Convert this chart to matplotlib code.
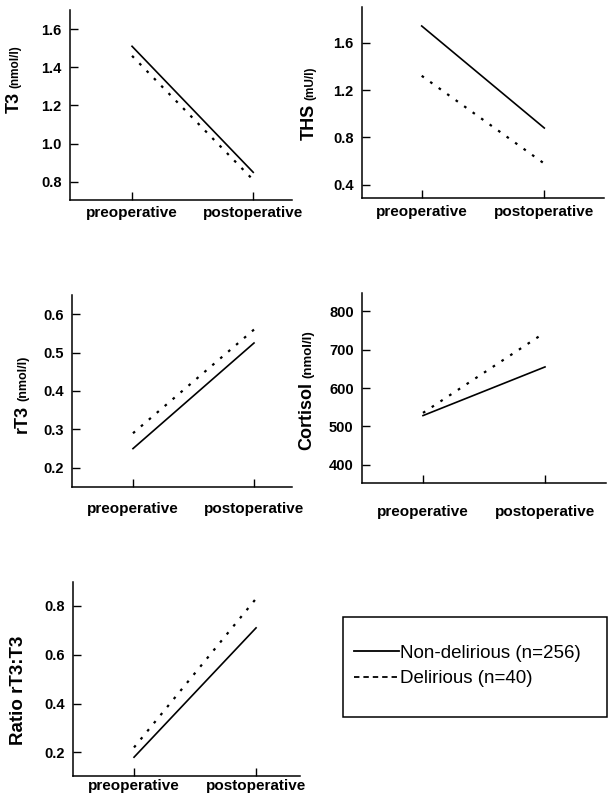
import matplotlib.pyplot as plt
from matplotlib.lines import Line2D
from matplotlib.patches import Rectangle
from matplotlib.ticker import FormatStrFormatter

plt.rcParams['font.family'] = ['Liberation Sans', 'DejaVu Sans']

# data
conditions = ['preoperative', 'postoperative']
series_names = ['Non-delirious (n=256)', 'Delirious (n=40)']

t3_non = [1.51, 0.85]
t3_del = [1.46, 0.81]
t3_ticks = [0.8, 1.0, 1.2, 1.4, 1.6]

ths_non = [1.74, 0.88]
ths_del = [1.32, 0.58]
ths_ticks = [0.4, 0.8, 1.2, 1.6]

rt3_non = [0.25, 0.525]
rt3_del = [0.29, 0.56]
rt3_ticks = [0.2, 0.3, 0.4, 0.5, 0.6]

cort_non = [528, 655]
cort_del = [535, 745]
cort_ticks = [400, 500, 600, 700, 800]

ratio_non = [0.18, 0.71]
ratio_del = [0.22, 0.83]
ratio_ticks = [0.2, 0.4, 0.6, 0.8]

W, H = 609, 800
fig = plt.figure(figsize=(6.09, 8.0), dpi=100)
DOTTED = (0, (1.2, 3.5))


def panel(box, xlim, ylim, ticks, fmt, non, dl, label, unit, lab_xy, lab_size, unit_size, xpad):
    left, right, top, bottom = box
    ax = fig.add_axes([left / W, 1 - bottom / H, (right - left) / W, (bottom - top) / H])
    ax.plot(range(len(conditions)), non, color='black', lw=1.2)
    ax.plot(range(len(conditions)), dl, color='black', lw=1.6, linestyle=DOTTED)
    ax.set_xlim(xlim)
    ax.set_ylim(ylim)
    ax.set_xticks(range(len(conditions)))
    ax.set_xticklabels(conditions, fontsize=11, fontweight='bold')
    ax.set_yticks(ticks)
    ax.yaxis.set_major_formatter(FormatStrFormatter(fmt))
    for t in ax.get_yticklabels():
        t.set_fontweight('bold')
    ax.tick_params(axis='y', direction='in', length=6, width=1, labelsize=10.5, pad=6)
    ax.tick_params(axis='x', direction='in', length=6, width=1, pad=xpad)
    for s in ['top', 'right']:
        ax.spines[s].set_visible(False)
    for s in ['left', 'bottom']:
        ax.spines[s].set_linewidth(1.1)
    t = fig.text(lab_xy[0] / W, 1 - lab_xy[1] / H, label, rotation=90,
                 ha='center', va='bottom', fontsize=lab_size, fontweight='bold')
    if unit:
        ax.annotate(unit, xy=(1, 1), xycoords=t, xytext=(-0.5, 3), textcoords='offset points',
                    rotation=90, ha='right', va='bottom', fontsize=unit_size, fontweight='bold')
    return ax


panel((70, 292, 10, 200), (-0.512, 1.32), (0.705, 1.70), t3_ticks, '%.1f',
      t3_non, t3_del, 'T3', '(nmol/l)', (14, 113), 13, 8.5, 4)
panel((362, 604, 7, 198), (-0.487, 1.487), (0.29, 1.9), ths_ticks, '%.1f',
      ths_non, ths_del, 'THS', '(mU/l)', (309, 140), 13, 8.5, 5)
panel((72, 292, 295, 487), (-0.504, 1.314), (0.15, 0.65), rt3_ticks, '%.1f',
      rt3_non, rt3_del, 'rT3', '(nmol/l)', (22, 433), 13, 9, 11)
panel((362, 606, 293, 483), (-0.5, 1.5), (352, 848), cort_ticks, '%d',
      cort_non, cort_del, 'Cortisol', '(nmol/l)', (307, 450), 13, 9.5, 16)
panel((73, 300, 582, 776), (-0.5, 1.36), (0.103, 0.898), ratio_ticks, '%.1f',
      ratio_non, ratio_del, 'Ratio rT3:T3', None, (19, 745), 13.5, 0, 2)

# legend box
fig.patches.append(Rectangle((343 / W, 1 - 717 / H), (607 - 343) / W, (717 - 617) / H,
                             transform=fig.transFigure, fill=False, lw=1.1, color='black'))
handles = [Line2D([], [], color='black', lw=1.3),
           Line2D([], [], color='black', lw=1.3, linestyle=(0, (3, 2.2)))]
fig.legend(handles, series_names, loc='center left', bbox_to_anchor=(354 / W, 1 - 666 / H),
           frameon=False, fontsize=13.5, handlelength=2.4, handletextpad=0.05,
           labelspacing=0.45, borderpad=0, borderaxespad=0)

fig.savefig('out.png', dpi=100)
